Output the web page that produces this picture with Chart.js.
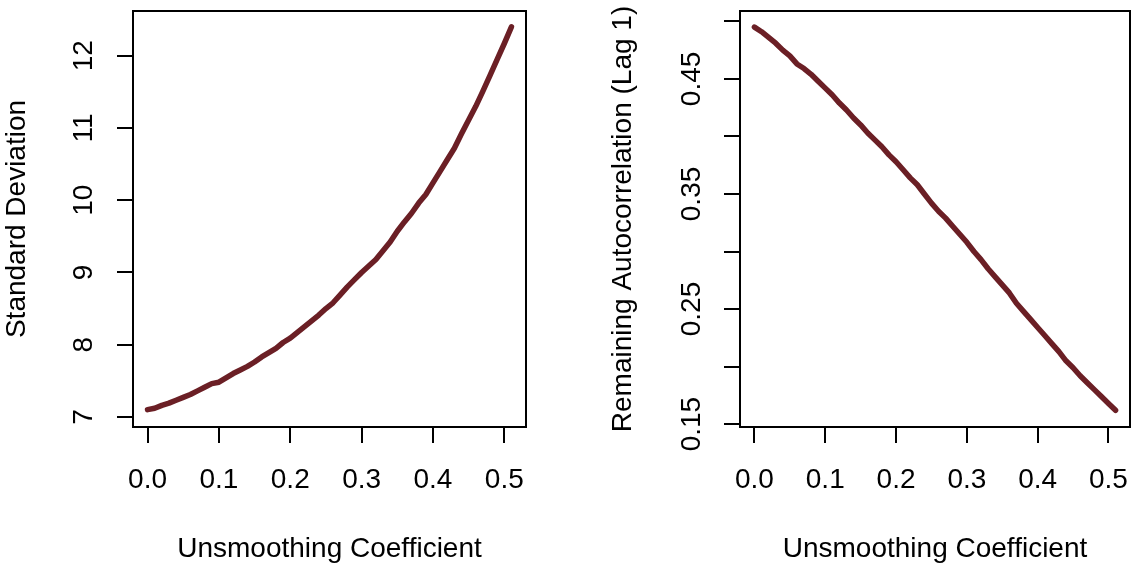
<!DOCTYPE html>
<html>
<head>
<meta charset="utf-8">
<script src="https://cdn.jsdelivr.net/npm/chart.js@4"></script>
<style>
  html, body { margin: 0; padding: 0; background: #fff; }
  #wrap { position: relative; width: 1132px; height: 566px; }
  canvas { position: absolute; top: 0; }
</style>
</head>
<body>
<div id="wrap">
  <canvas id="sdChart" width="566" height="566" style="left:0px"></canvas>
  <canvas id="acChart" width="566" height="566" style="left:566px"></canvas>
</div>
<script>
// unsmoothing coefficient (x values, both panels)
const coef = [0.00, 0.01, 0.02, 0.03, 0.04, 0.05, 0.06, 0.07, 0.08, 0.09,
              0.10, 0.11, 0.12, 0.13, 0.14, 0.15, 0.16, 0.17, 0.18, 0.19,
              0.20, 0.21, 0.22, 0.23, 0.24, 0.25, 0.26, 0.27, 0.28, 0.29,
              0.30, 0.31, 0.32, 0.33, 0.34, 0.35, 0.36, 0.37, 0.38, 0.39,
              0.40, 0.41, 0.42, 0.43, 0.44, 0.45, 0.46, 0.47, 0.48, 0.49,
              0.50, 0.51]

// left panel: standard deviation
const sdValues = [7.10, 7.12, 7.16, 7.19, 7.23, 7.27, 7.31, 7.36, 7.41, 7.46,
                  7.48, 7.54, 7.60, 7.65, 7.70, 7.76, 7.83, 7.89, 7.95, 8.03,
                  8.09, 8.17, 8.25, 8.33, 8.41, 8.50, 8.58, 8.69, 8.80, 8.90,
                  9.00, 9.09, 9.18, 9.30, 9.42, 9.57, 9.70, 9.82, 9.96, 10.08,
                  10.24, 10.40, 10.56, 10.72, 10.92, 11.11, 11.30, 11.51, 11.73, 11.95,
                  12.17, 12.40]

// right panel: remaining autocorrelation (lag 1)
const acValues = [0.495, 0.491, 0.486, 0.481, 0.475, 0.470, 0.463, 0.459, 0.454, 0.448,
                  0.442, 0.436, 0.429, 0.423, 0.416, 0.410, 0.403, 0.397, 0.391, 0.384,
                  0.378, 0.371, 0.364, 0.358, 0.350, 0.342, 0.335, 0.329, 0.322, 0.315,
                  0.308, 0.300, 0.293, 0.285, 0.278, 0.271, 0.264, 0.255, 0.248, 0.241,
                  0.234, 0.227, 0.220, 0.213, 0.205, 0.199, 0.192, 0.186, 0.180, 0.174,
                  0.168, 0.162]

const coefTicks = [0, 0.1, 0.2, 0.3, 0.4, 0.5]
const sdTicks = [7, 8, 9, 10, 11, 12]
const acTicks = [0.15, 0.20, 0.25, 0.30, 0.35, 0.40, 0.45, 0.50]
const acTickLabels = ['0.15', '', '0.25', '', '0.35', '', '0.45', '']

const LINE_COLOR = 'rgb(107, 31, 37)'

Chart.defaults.font.family = '"Liberation Sans", Arial, Helvetica, sans-serif'
Chart.defaults.font.size = 28
Chart.defaults.color = '#000'

// R style box round the plot region
const boxPlugin = {
  id: 'box',
  afterDraw(chart) {
    const a = chart.chartArea
    const ctx = chart.ctx
    ctx.save()
    ctx.strokeStyle = '#000'
    ctx.lineWidth = 2
    ctx.strokeRect(a.left, a.top, a.right - a.left, a.bottom - a.top)
    ctx.restore()
  }
}

function makeChart(id, values, cfg) {
  const points = coef.map((c, i) => ({ x: c, y: values[i] }))
  return new Chart(document.getElementById(id), {
    type: 'line',
    data: {
      datasets: [{
        data: points,
        borderColor: LINE_COLOR,
        borderWidth: 5.5,
        borderCapStyle: 'round',
        borderJoinStyle: 'round',
        pointRadius: 0,
        tension: 0
      }]
    },
    options: {
      responsive: false,
      animation: false,
      layout: { padding: cfg.padding },
      plugins: { legend: { display: false }, tooltip: { enabled: false } },
      scales: {
        x: {
          type: 'linear',
          min: -0.0204,
          max: 0.5304,
          afterBuildTicks: s => { s.ticks = coefTicks.map(v => ({ value: v })) },
          afterFit: s => {
            s.height = 139
            s.paddingLeft = 0
            s.paddingRight = 0
          },
          grid: { display: true, drawOnChartArea: false, drawTicks: true, tickLength: 16, color: '#000', lineWidth: 2 },
          border: { display: false },
          ticks: {
            autoSkip: false,
            maxRotation: 0,
            padding: 20,
            color: '#000',
            callback: v => v.toFixed(1)
          },
          title: {
            display: true,
            text: 'Unsmoothing Coefficient',
            padding: { top: 0, bottom: 0 },
            color: '#000'
          }
        },
        y: {
          type: 'linear',
          min: cfg.yMin,
          max: cfg.yMax,
          afterBuildTicks: s => { s.ticks = cfg.yTicks.map(v => ({ value: v })) },
          afterFit: s => {
            s.width = cfg.yWidth
            s.paddingTop = 0
            s.paddingBottom = 0
          },
          grid: { display: true, drawOnChartArea: false, drawTicks: true, tickLength: 16, color: '#000', lineWidth: 2 },
          border: { display: false },
          ticks: {
            autoSkip: false,
            minRotation: 90,
            maxRotation: 90,
            crossAlign: 'center',
            padding: cfg.tickPad,
            color: '#000',
            callback: cfg.yLabel
          },
          title: {
            display: true,
            text: cfg.title,
            padding: { top: cfg.titlePad, bottom: 0 },
            color: '#000'
          }
        }
      }
    },
    plugins: [boxPlugin]
  })
}

makeChart('sdChart', sdValues, {
  padding: { left: 0, top: 11, right: 40, bottom: 0 },
  yMin: 6.86,
  yMax: 12.62,
  yTicks: sdTicks,
  yWidth: 133,
  tickPad: 17,
  titlePad: 0.5,
  title: 'Standard Deviation',
  yLabel: v => String(v)
})

makeChart('acChart', acValues, {
  padding: { left: 0, top: 11, right: 2, bottom: 0 },
  yMin: 0.1475,
  yMax: 0.509,
  yTicks: acTicks,
  yWidth: 174,
  tickPad: 4,
  titlePad: 40.8,
  title: 'Remaining Autocorrelation (Lag 1)',
  yLabel: (v, i) => acTickLabels[i]
})
</script>
</body>
</html>
